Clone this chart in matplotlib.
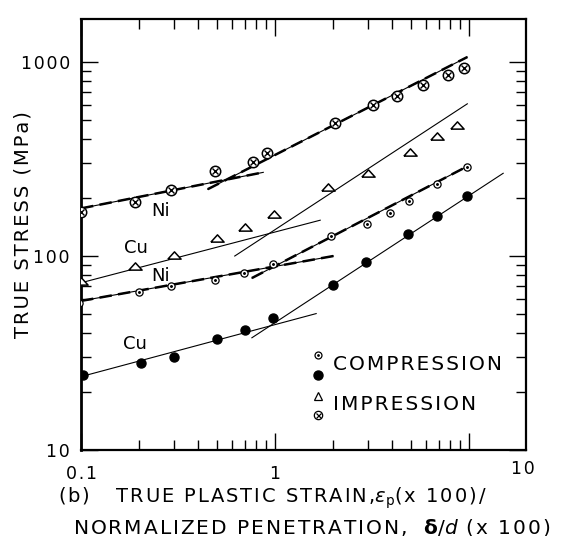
import matplotlib
matplotlib.use('Agg')
import matplotlib.pyplot as plt
from matplotlib.ticker import NullFormatter, LogLocator, FixedLocator

# Ni, impression (circle with cross)
ni_imp_x = [0.1, 0.19, 0.29, 0.49, 0.77, 0.91, 2.04, 3.2, 4.25, 5.8, 7.8, 9.4]
ni_imp_y = [168, 189, 218, 273, 307, 341, 486, 601, 670, 762, 858, 932]

# Cu, impression (triangles)
cu_imp_x = [0.1, 0.19, 0.30, 0.50, 0.70, 0.99, 1.87, 3.0, 4.96, 6.84, 8.67]
cu_imp_y = [74.5, 89, 101, 124, 141, 164, 226, 267, 345, 418, 475]

# Ni, compression (circle with dot)
ni_comp_x = [0.098, 0.2, 0.29, 0.49, 0.69, 0.98, 1.95, 2.98, 3.92, 4.91, 6.84, 9.77]
ni_comp_y = [57.4, 65.3, 70.2, 75.3, 81.9, 91, 127, 146, 166, 192, 234, 286]

# Cu, compression (filled circles)
cu_comp_x = [0.102, 0.204, 0.30, 0.50, 0.70, 0.98, 1.99, 2.94, 4.85, 6.84, 9.77]
cu_comp_y = [24.3, 28.2, 30.3, 37.5, 41.8, 48.1, 71, 93.1, 130, 160, 203]

# fitted lines (two regimes per curve): x ends, y ends
ni_imp_fit = [([0.1, 0.87], [176, 270]), ([0.45, 9.8], [221, 1061])]
cu_imp_fit = [([0.1, 1.71], [72.8, 153]), ([0.62, 9.8], [100, 609])]
ni_comp_fit = [([0.1, 2.0], [58.7, 100]), ([0.76, 9.8], [77, 290])]
cu_comp_fit = [([0.1, 1.63], [23.9, 50.5]), ([0.76, 15], [37.9, 267])]

plt.rcParams['font.family'] = 'DejaVu Sans'
HS = '\u200a'  # hair space, to open up the lettering like the original


def spaced(s):
    return HS.join(s)


fig = plt.figure(figsize=(5.82, 5.36), dpi=100)
ax = fig.add_axes([0.1392, 0.1604, 0.7646, 0.8042])
ax.set_xscale('log')
ax.set_yscale('log')
ax.set_xlim(0.1, 19.67)
ax.set_ylim(10, 1667)

# lines
for fits, dashed in [(ni_imp_fit, True), (cu_imp_fit, False),
                     (ni_comp_fit, True), (cu_comp_fit, False)]:
    for xs, ys in fits:
        ax.plot(xs, ys, color='black', lw=0.8, zorder=2)
        if dashed:
            ax.plot(xs, ys, color='black', lw=1.8, ls=(0, (5, 2.5)), zorder=2)

# markers
tri = [(-1, -0.55), (1, -0.55), (0, 0.55), (-1, -0.55)]
ax.plot(ni_imp_x, ni_imp_y, 'o', ms=7.5, mfc='white', mec='black', mew=1.1, ls='none', zorder=3)
ax.plot(ni_imp_x, ni_imp_y, 'x', ms=4.5, mec='black', mew=1.0, ls='none', zorder=4)
ax.plot(cu_imp_x, cu_imp_y, marker=tri, ms=9.5, mfc='white', mec='black', mew=1.1, ls='none', zorder=3)
ax.plot(ni_comp_x, ni_comp_y, 'o', ms=5.2, mfc='white', mec='black', mew=0.9, ls='none', zorder=3)
ax.plot(ni_comp_x, ni_comp_y, '.', ms=2.2, color='black', ls='none', zorder=4)
ax.plot(cu_comp_x, cu_comp_y, 'o', ms=6.5, color='black', ls='none', zorder=3)

# curve labels
lab = dict(fontsize=13, ha='center', va='center')
ax.annotate('Ni', xy=(161, 536 - 211), xycoords='figure pixels', **lab)
ax.annotate('Cu', xy=(136, 536 - 248), xycoords='figure pixels', **lab)
ax.annotate('Ni', xy=(161, 536 - 276), xycoords='figure pixels', **lab)
ax.annotate('Cu', xy=(135, 536 - 344), xycoords='figure pixels', **lab)


def fp(x, y):
    return fig.transFigure.inverted().transform((x, 536 - y))


# legend drawn by hand
lx = 318
for y, kind in [(355, 'dot'), (375, 'fill'), (396, 'tri'), (415, 'cross')]:
    p = fp(lx, y)
    kw = dict(transform=fig.transFigure)
    if kind == 'dot':
        fig.lines.append(plt.Line2D([p[0]], [p[1]], marker='o', ms=5, mfc='white', mec='black', mew=0.9, **kw))
        fig.lines.append(plt.Line2D([p[0]], [p[1]], marker='.', ms=2, color='black', **kw))
    elif kind == 'fill':
        fig.lines.append(plt.Line2D([p[0]], [p[1]], marker='o', ms=6.5, color='black', **kw))
    elif kind == 'tri':
        fig.lines.append(plt.Line2D([p[0]], [p[1]], marker='^', ms=6, mfc='white', mec='black', mew=0.9, **kw))
    else:
        fig.lines.append(plt.Line2D([p[0]], [p[1]], marker='o', ms=6, mfc='white', mec='black', mew=0.9, **kw))
        fig.lines.append(plt.Line2D([p[0]], [p[1]], marker='x', ms=3.6, mec='black', mew=0.9, **kw))
p = fp(333, 364)
fig.text(p[0], p[1], spaced('COMPRESSION'), fontsize=14.5, ha='left', va='center')
p = fp(333, 404)
fig.text(p[0], p[1], spaced('IMPRESSION'), fontsize=14.5, ha='left', va='center')

# ticks
ax.xaxis.set_major_locator(FixedLocator([0.1, 1, 10]))
ax.xaxis.set_minor_locator(LogLocator(base=10, subs=range(2, 10)))
ax.yaxis.set_major_locator(FixedLocator([10, 100, 1000]))
ax.yaxis.set_minor_locator(LogLocator(base=10, subs=range(2, 10)))
ax.xaxis.set_minor_formatter(NullFormatter())
ax.yaxis.set_minor_formatter(NullFormatter())
ax.set_xticklabels([spaced('0.1'), '1', ''])
ax.set_yticklabels([spaced('10'), spaced('100'), spaced('1000')])
ax.tick_params(which='both', direction='in', top=True, right=True, width=1.0)
ax.tick_params(which='major', length=12, labelsize=12.5, pad=8)
ax.tick_params(axis='x', which='major', pad=11)
ax.tick_params(which='minor', length=7)
ax.text(0.993, -0.044, spaced('10'), transform=ax.transAxes, fontsize=12.5, ha='center', va='center')

for s in ax.spines.values():
    s.set_linewidth(1.6)
ax.spines['left'].set_linewidth(2.0)

p = fp(23, 225)
fig.text(p[0], p[1], spaced('TRUE STRESS (MPa)'), fontsize=14, rotation=90, ha='center', va='center')

p = fp(58, 498)
fig.text(p[0], p[1], spaced('(b)   TRUE PLASTIC STRAIN,') + r'$\varepsilon_\mathrm{p}$' + spaced('(x 100)/'),
         fontsize=14, ha='left', va='center')
p = fp(73, 527)
fig.text(p[0], p[1], spaced('NORMALIZED PENETRATION,  ') + r'$\mathbf{\delta}/d$' + spaced(' (x 100)'),
         fontsize=14.5, ha='left', va='center')

plt.savefig('out.png', dpi=100)
